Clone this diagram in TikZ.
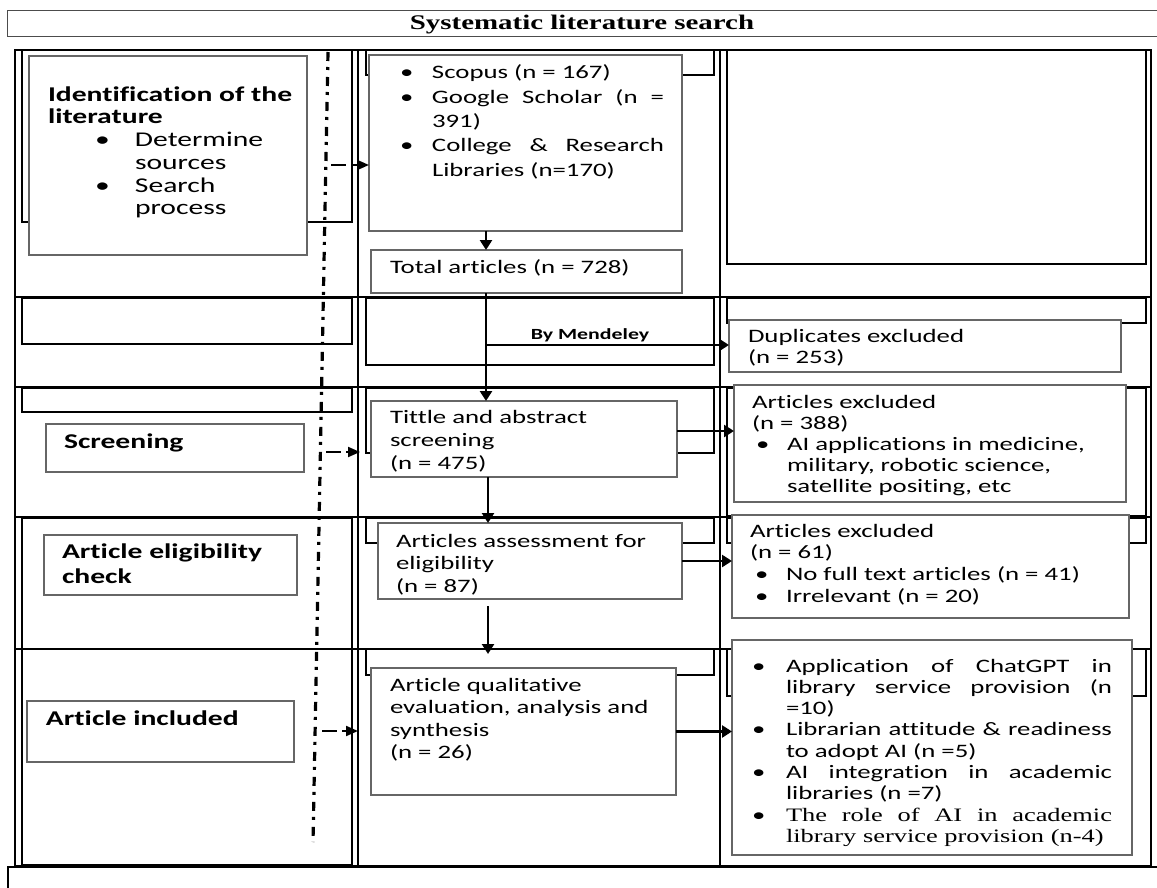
\documentclass[tikz,border=0pt]{standalone}
\usepackage{fontspec}
\setmainfont{Carlito}[FakeStretch=1.41,Ligatures=NoCommon]
\newfontfamily\tnr{Liberation Serif}[FakeStretch=1.39]
\usetikzlibrary{arrows.meta,calc}
\hyphenpenalty=10000 \exhyphenpenalty=10000
\definecolor{boxgray}{gray}{0.4}
\definecolor{titlegray}{gray}{0.3}
% #1 width, #2 height, #3 font size, #4 baselineskip, #5 left pad, #6 first baseline offset, #7 content
\newcommand\bxc[7]{\parbox[c][#2pt][t]{#1pt}{\fontsize{#3}{#4}\selectfont\leftskip=#5pt\relax
  \vspace*{\dimexpr #6pt-#4pt\relax}\prevdepth=0pt #7}}
% #1 bullet position, #2 hanging width, #3 text
\newcommand\bitem[3]{{\leftskip=#1pt\relax\hangindent=#2pt\hangafter=1\noindent\makebox[#2pt][l]{\textbullet}#3\par}}
\begin{document}
\begin{tikzpicture}[x=1pt,y=-1pt,
  tbl/.style={line width=2pt, black},
  inr/.style={line width=2pt, black},
  bx/.style={draw=boxgray, line width=1.3pt, fill=white, inner sep=0pt, outer sep=0pt, anchor=north west},
  arr/.style={line width=2.5pt, -{Triangle[length=10pt,width=12pt]}},
  darr/.style={line width=2pt, dash pattern=on 15pt off 5pt, -{Triangle[length=12pt,width=10pt]}},
  ddot/.style={line width=3.2pt, dash pattern=on 9pt off 6pt on 3pt off 7pt},
]
\useasboundingbox (0,0) rectangle (1157,888);
\clip (0,0) rectangle (1157,888);
\fill[white] (0,0) rectangle (1157,888);
% title and bottom boxes
\node[draw=titlegray, line width=1.3pt, anchor=north west, minimum width=1170pt, minimum height=26pt, inner sep=0pt] (T) at (7,10) {};
\node[anchor=base, inner sep=0pt, font=\tnr\bfseries\fontsize{20.8}{25}\selectfont] (Tt) at (582,30) {Systematic literature search};
\node[draw, line width=2pt, anchor=north west, minimum width=1170pt, minimum height=40pt, inner sep=0pt] (F) at (7,866) {};
% table
\draw[tbl] (15,50) rectangle (1151,866);
\foreach \x in {358,720} \draw[tbl] (\x,50) -- (\x,866);
\foreach \y in {297,387,517,649} \draw[tbl] (15,\y) -- (1151,\y);
% inner frames
\draw[inr] (22,50) rectangle (352,222);
\draw[inr] (366,50) rectangle (714,75);
\draw[inr] (727,50) rectangle (1146,264);
\draw[inr] (22,298) rectangle (352,344);
\draw[inr] (366,298) rectangle (714,365);
\draw[inr] (727,298) rectangle (1146,323);
\draw[inr] (22,388) rectangle (352,412);
\draw[inr] (366,388) rectangle (714,453);
\draw[inr] (727,388) rectangle (1146,516);
\draw[inr] (22,518) rectangle (352,649);
\draw[inr] (366,518) rectangle (714,543);
\draw[inr] (727,518) rectangle (1146,543);
\draw[inr] (22,649) rectangle (352,865);
\draw[inr] (366,649) rectangle (714,675);
\draw[inr] (727,649) rectangle (1146,696);
% dash-dot divider
\coordinate (DT) at (328,52);
\coordinate (DB) at (313,842);
\draw[ddot] (DT) -- (DB);
% boxes
\node[bx] (B1) at (29,56) {\bxc{278}{199}{21}{22.8}{19}{45}{\textbf{Identification of the\\literature}\par\bitem{66}{40}{Determine\\sources}\bitem{66}{40}{Search\\process}}};
\node[bx] (B2) at (369,55) {\bxc{313}{176}{19}{24.3}{31}{24}{\rightskip=18pt\relax\bitem{31}{32}{Scopus (n = 167)}\bitem{31}{32}{Google Scholar (n =\linebreak 391)}\bitem{31}{32}{College \& Research\linebreak Libraries (n=170)}}};
\node[bx] (B3) at (371,250) {\bxc{311}{43}{19}{23}{19}{23}{Total articles (n = 728)}};
\node[bx] (B4) at (729,320) {\bxc{392}{52}{19}{21}{19}{22}{Duplicates excluded\\(n = 253)}};
\node[bx] (B5) at (46,424) {\bxc{258}{48}{21}{24}{18}{24}{\textbf{Screening}}};
\node[bx] (B6) at (371,401) {\bxc{306}{76}{19}{23}{19}{22}{Tittle and abstract\\screening\\(n = 475)}};
\node[bx] (B7) at (734,385) {\bxc{392}{117}{19}{21.2}{18}{23}{Articles excluded\\(n = 388)\par\bitem{22}{31}{AI applications in medicine,\\military, robotic science,\\satellite positing, etc}}};
\node[bx] (B8) at (44,535) {\bxc{253}{60}{21}{25}{18}{23}{\textbf{Article eligibility\\check}}};
\node[bx] (B9) at (378,523) {\bxc{304}{76}{19}{22.5}{18}{24}{Articles assessment for\\eligibility\\(n = 87)}};
\node[bx] (B10) at (732,515) {\bxc{397}{103}{19}{21.7}{18}{22}{Articles excluded\\(n = 61)\par\bitem{23}{31}{No full text articles (n = 41)}\bitem{23}{31}{Irrelevant (n = 20)}}};
\node[bx] (B11) at (27,701) {\bxc{267}{61}{21}{24}{19}{24}{\textbf{Article included}}};
\node[bx] (B12) at (371,668) {\bxc{305}{127}{19}{22.5}{19}{23}{Article qualitative\\evaluation, analysis and\\synthesis\\(n = 26)}};
\node[bx] (B13) at (732,640) {\bxc{400}{215}{19}{21.3}{20}{32}{\rightskip=20pt\relax\bitem{20}{34}{Application of ChatGPT in\linebreak library service provision (n\linebreak =10)}\bitem{20}{34}{Librarian attitude \& readiness\linebreak to adopt AI (n =5)}\bitem{20}{34}{AI integration in academic\linebreak libraries (n =7)}\bitem{20}{34}{{\tnr The role of AI in academic\linebreak library service provision (n-4)}}}};
\node[anchor=base, inner sep=0pt, font=\bfseries\fontsize{15.5}{18}\selectfont] (M) at (590,339) {By Mendeley};
% connectors
\coordinate (X1) at (486,0);
\coordinate (X2) at (488,0);
\coordinate (J) at (486,345);
\coordinate (Y1) at (0,431);
\draw[arr] (B2.south -| X1) -- (B3.north -| X1);
\draw[arr] (B3.south -| X1) -- (B6.north -| X1);
\draw[arr] (J) -- (J -| B4.west);
\draw[arr] (B6.east |- Y1) -- (B7.west |- Y1);
\draw[arr] (B6.south -| X2) -- (B9.north -| X2);
\draw[arr] (B9.east) -- (B9.east -| B10.west);
\draw[arr, shorten <=7pt, shorten >=14pt] (B9.south -| X2) -- (B12.north -| X2);
\draw[arr] (B12.east) -- (B12.east -| B13.west);
% dashed links from the divider
\coordinate (d1) at (331,165);
\coordinate (d2) at (326,452);
\coordinate (e2) at (360,452);
\coordinate (d3) at (322,731);
\coordinate (e3) at (358,731);
\draw[darr] (d1) -- (d1 -| B2.west);
\draw[darr] (d2) -- (e2);
\draw[darr] (d3) -- (e3);
\end{tikzpicture}
\end{document}
